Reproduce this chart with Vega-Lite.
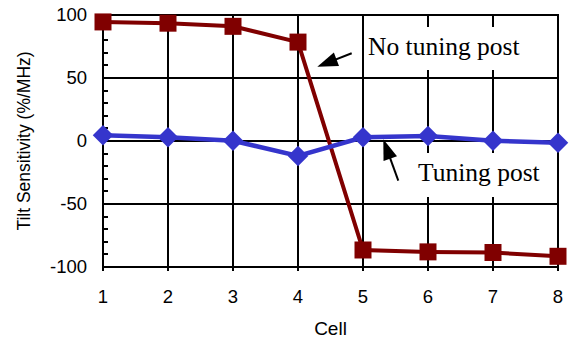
{
  "$schema": "https://vega.github.io/schema/vega-lite/v6.json",
  "width": 455,
  "height": 252,
  "autosize": {"type": "none"},
  "padding": {"left": 103, "top": 15, "right": 13, "bottom": 74},
  "background": "white",
  "resolve": {"axis": {"x": "independent", "y": "independent"}},
  "config": {
    "view": {"stroke": "black", "strokeWidth": 2},
    "axis": {
      "translate": 0,
      "labelFont": "Liberation Sans",
      "titleFont": "Liberation Sans",
      "labelColor": "black",
      "titleColor": "black",
      "titleFontWeight": "normal",
      "domain": false,
      "gridColor": "black",
      "gridWidth": 2,
      "tickColor": "black",
      "tickWidth": 2
    }
  },
  "datasets": {
    "series": [
      {"series": "No tuning post", "cell": 1, "value": 94.5},
      {"series": "No tuning post", "cell": 2, "value": 93.5},
      {"series": "No tuning post", "cell": 3, "value": 91},
      {"series": "No tuning post", "cell": 4, "value": 78.5},
      {"series": "No tuning post", "cell": 5, "value": -86.5},
      {"series": "No tuning post", "cell": 6, "value": -88},
      {"series": "No tuning post", "cell": 7, "value": -88.5},
      {"series": "No tuning post", "cell": 8, "value": -91.5},
      {"series": "Tuning post", "cell": 1, "value": 4.5},
      {"series": "Tuning post", "cell": 2, "value": 2.9},
      {"series": "Tuning post", "cell": 3, "value": 0.2},
      {"series": "Tuning post", "cell": 4, "value": -11.9},
      {"series": "Tuning post", "cell": 5, "value": 2.9},
      {"series": "Tuning post", "cell": 6, "value": 4},
      {"series": "Tuning post", "cell": 7, "value": 0.2},
      {"series": "Tuning post", "cell": 8, "value": -1.3}
    ],
    "notes": [
      {"text": "No tuning post", "cell": 5.077, "value": 68.3},
      {"text": "Tuning post", "cell": 5.846, "value": -31.5}
    ],
    "boxes": [
      {"note": "No tuning post", "cell": 5.03, "cell2": 7.57, "value": 90.5, "value2": 56.3},
      {"note": "Tuning post", "cell": 5.646, "cell2": 7.846, "value": -9.5, "value2": -44.4}
    ],
    "arrowLines": [
      {"arrow": "No tuning post", "cell": 4.826, "value": 69.6, "cell2": 4.418, "value2": 61.4},
      {"arrow": "Tuning post", "cell": 5.543, "value": -31.5, "cell2": 5.357, "value2": -5.0}
    ],
    "arrowTips": [
      {"arrow": "No tuning post", "cell": 4.297, "value": 59.0},
      {"arrow": "Tuning post", "cell": 5.312, "value": 1.3}
    ]
  },
  "layer": [
    {
      "data": {"name": "boxes"},
      "mark": {"type": "rect", "fill": "white"},
      "encoding": {
        "x": {"field": "cell", "type": "quantitative", "scale": {"domain": [1, 8], "nice": false, "zero": false},
          "axis": {
            "title": "Cell",
            "values": [1, 2, 3, 4, 5, 6, 7, 8],
            "labelExpr": "'' + datum.value",
            "grid": true,
            "gridColor": "black",
            "gridWidth": 2,
            "gridOpacity": 1,
            "ticks": true,
            "tickColor": "black",
            "tickWidth": 2,
            "tickSize": 4,
            "labelFontSize": 18.5,
            "labelBaseline": "alphabetic",
            "labelPadding": 32,
            "labelFlush": false,
            "labelAngle": 0,
            "labelOverlap": false,
            "titleFontSize": 19,
            "titleX": 227.5,
            "titleY": 68,
            "titleAlign": "center",
            "titleBaseline": "alphabetic"
          }},
        "x2": {"field": "cell2"},
        "y": {"field": "value", "type": "quantitative", "scale": {"domain": [-100, 100], "nice": false, "zero": false},
          "axis": {
            "title": "Tilt Sensitivity (%/MHz)",
            "values": [-100, -90, -80, -70, -60, -50, -40, -30, -20, -10, 0, 10, 20, 30, 40, 50, 60, 70, 80, 90, 100],
            "grid": true,
            "gridColor": "black",
            "gridWidth": 2,
            "gridOpacity": {"condition": {"test": "datum.value % 50 === 0", "value": 1}, "value": 0},
            "labelExpr": "datum.value % 50 === 0 ? '' + datum.value : ''",
            "labelOverlap": false,
            "labelFlush": false,
            "ticks": true,
            "tickColor": "black",
            "tickWidth": 2,
            "tickSize": -5,
            "labelFontSize": 18.5,
            "labelPadding": 21,
            "titleFontSize": 17.5,
            "titleAngle": -90,
            "titleX": -78,
            "titleY": 126,
            "titleAlign": "center",
            "titleBaseline": "middle"
          }},
        "y2": {"field": "value2"}
      }
    },
    {
      "data": {"name": "notes"},
      "mark": {"type": "text", "font": "Liberation Serif", "fontSize": 25.5, "align": "left", "baseline": "alphabetic", "color": "black"},
      "encoding": {
        "x": {"field": "cell", "type": "quantitative", "axis": null},
        "y": {"field": "value", "type": "quantitative", "axis": null},
        "text": {"field": "text"}
      }
    },
    {
      "data": {"name": "arrowLines"},
      "mark": {"type": "rule", "color": "black", "strokeWidth": 2},
      "encoding": {
        "x": {"field": "cell", "type": "quantitative", "axis": null},
        "y": {"field": "value", "type": "quantitative", "axis": null},
        "x2": {"field": "cell2"},
        "y2": {"field": "value2"}
      }
    },
    {
      "data": {"name": "arrowTips"},
      "transform": [{"filter": "datum.arrow === 'No tuning post'"}],
      "mark": {"type": "point", "shape": "M0,0L2,-0.7L2,0.7Z", "size": 420, "filled": true, "color": "black", "opacity": 1, "angle": -21},
      "encoding": {
        "x": {"field": "cell", "type": "quantitative", "axis": null},
        "y": {"field": "value", "type": "quantitative", "axis": null}
      }
    },
    {
      "data": {"name": "arrowTips"},
      "transform": [{"filter": "datum.arrow === 'Tuning post'"}],
      "mark": {"type": "point", "shape": "M0,0L2,-0.7L2,0.7Z", "size": 420, "filled": true, "color": "black", "opacity": 1, "angle": 70},
      "encoding": {
        "x": {"field": "cell", "type": "quantitative", "axis": null},
        "y": {"field": "value", "type": "quantitative", "axis": null}
      }
    },
    {
      "data": {"name": "series"},
      "transform": [{"filter": "datum.series === 'No tuning post'"}],
      "mark": {"type": "line", "color": "#800000", "strokeWidth": 4},
      "encoding": {
        "x": {"field": "cell", "type": "quantitative", "axis": null},
        "y": {"field": "value", "type": "quantitative", "axis": null}
      }
    },
    {
      "data": {"name": "series"},
      "transform": [{"filter": "datum.series === 'No tuning post'"}],
      "mark": {"type": "point", "shape": "square", "size": 289, "filled": true, "color": "#800000", "opacity": 1},
      "encoding": {
        "x": {"field": "cell", "type": "quantitative", "axis": null},
        "y": {"field": "value", "type": "quantitative", "axis": null}
      }
    },
    {
      "data": {"name": "series"},
      "transform": [{"filter": "datum.series === 'Tuning post'"}],
      "mark": {"type": "line", "color": "#3535CC", "strokeWidth": 4.5},
      "encoding": {
        "x": {"field": "cell", "type": "quantitative", "axis": null},
        "y": {"field": "value", "type": "quantitative", "axis": null}
      }
    },
    {
      "data": {"name": "series"},
      "transform": [{"filter": "datum.series === 'Tuning post'"}],
      "mark": {"type": "point", "shape": "diamond", "size": 420, "filled": true, "color": "#3535CC", "opacity": 1},
      "encoding": {
        "x": {"field": "cell", "type": "quantitative", "axis": null},
        "y": {"field": "value", "type": "quantitative", "axis": null}
      }
    }
  ]
}
